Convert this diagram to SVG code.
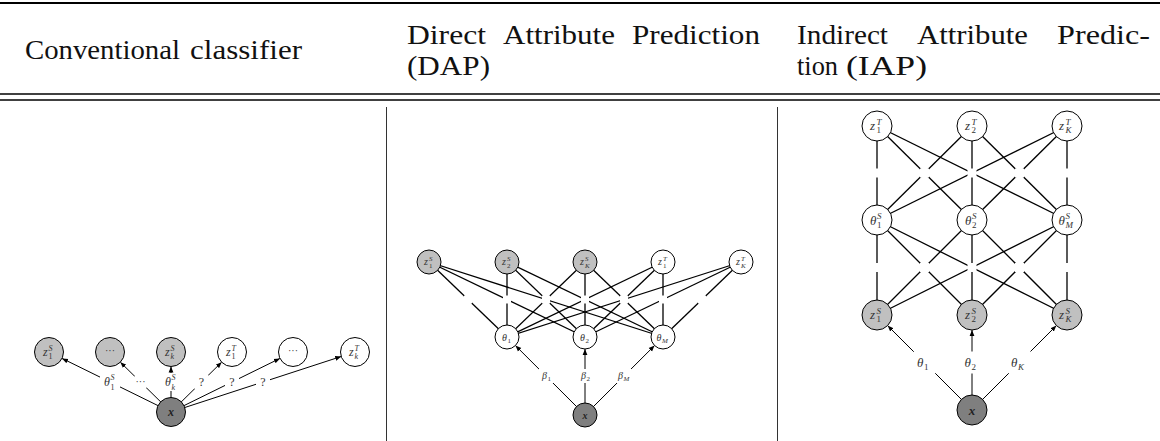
<svg xmlns="http://www.w3.org/2000/svg" width="1160" height="441" viewBox="0 0 1160 441">
<defs>
<marker id="ah" viewBox="0 0 10 10" refX="10" refY="5" markerWidth="6" markerHeight="6" markerUnits="userSpaceOnUse" orient="auto"><path d="M0,1 L10,5 L0,9 z" fill="#000"/></marker>
<style>
text{font-family:'Liberation Serif','Times New Roman','DejaVu Serif',serif;font-weight:normal}
.hdr{font-size:28px;fill:#111}
.rule{stroke:#000;fill:none}
.sep{stroke:#333;stroke-width:1}
.e{stroke:#000;stroke-width:1.3;fill:none}
.a{stroke:#000;stroke-width:1;fill:none;marker-end:url(#ah)}
.gap{fill:#fff}
.n{stroke:#000;stroke-width:1}
.obs{fill:#c0c0c0}
.lat{fill:#fff}
.inp{fill:#7f7f7f}
.m{font-style:italic;fill:#333}
.r{fill:#333}
.b{font-style:italic;font-weight:bold;fill:#222}
.s1{font-size:12px}.s1s{font-size:8px}
.s2{font-size:10px}.s2s{font-size:7px}
.s3{font-size:13px}.s3s{font-size:9px}
</style>
</defs>

<g id="header">
<line class="rule" x1="0" y1="3" x2="1160" y2="3" stroke-width="2.2"/>
<line class="rule" x1="0" y1="94" x2="1160" y2="94" stroke-width="1.3"/>
<line class="rule" x1="0" y1="100" x2="1160" y2="100" stroke-width="1.3"/>
<text class="hdr" x="25" y="59" textLength="155" lengthAdjust="spacingAndGlyphs">Conventional</text>
<text class="hdr" x="190" y="59" textLength="112" lengthAdjust="spacingAndGlyphs">classifier</text>
<text class="hdr" x="407" y="44" textLength="79" lengthAdjust="spacingAndGlyphs">Direct</text>
<text class="hdr" x="503" y="44" textLength="112" lengthAdjust="spacingAndGlyphs">Attribute</text>
<text class="hdr" x="632" y="44" textLength="128" lengthAdjust="spacingAndGlyphs">Prediction</text>
<text class="hdr" x="407" y="75" textLength="83" lengthAdjust="spacingAndGlyphs">(DAP)</text>
<text class="hdr" x="797" y="44" textLength="91" lengthAdjust="spacingAndGlyphs">Indirect</text>
<text class="hdr" x="917" y="44" textLength="111" lengthAdjust="spacingAndGlyphs">Attribute</text>
<text class="hdr" x="1057" y="44" textLength="93" lengthAdjust="spacingAndGlyphs">Predic-</text>
<text class="hdr" x="797" y="75" textLength="41" lengthAdjust="spacingAndGlyphs">tion</text>
<text class="hdr" x="846" y="75" textLength="81" lengthAdjust="spacingAndGlyphs">(IAP)</text>
<line class="sep" x1="386.5" y1="107" x2="386.5" y2="441"/>
<line class="sep" x1="777.5" y1="107" x2="777.5" y2="441"/>
</g>

<g id="connectors">
<!-- left panel arrows -->
<line class="a" x1="171" y1="412" x2="62.01" y2="358.4"/>
<line class="a" x1="171" y1="412" x2="120.34" y2="362.17"/>
<line class="a" x1="171" y1="412" x2="171" y2="366.5"/>
<line class="a" x1="171" y1="412" x2="221.66" y2="362.17"/>
<line class="a" x1="171" y1="412" x2="279.99" y2="358.4"/>
<line class="a" x1="171" y1="412" x2="341.21" y2="356.5"/>
<!-- middle panel undirected edges -->
<g class="e">
<line x1="429" y1="262" x2="507" y2="337"/><line x1="429" y1="262" x2="585" y2="337"/><line x1="429" y1="262" x2="663" y2="337"/>
<line x1="507" y1="262" x2="507" y2="337"/><line x1="507" y1="262" x2="585" y2="337"/><line x1="507" y1="262" x2="663" y2="337"/>
<line x1="585" y1="262" x2="507" y2="337"/><line x1="585" y1="262" x2="585" y2="337"/><line x1="585" y1="262" x2="663" y2="337"/>
<line x1="663" y1="262" x2="507" y2="337"/><line x1="663" y1="262" x2="585" y2="337"/><line x1="663" y1="262" x2="663" y2="337"/>
<line x1="741" y1="262" x2="507" y2="337"/><line x1="741" y1="262" x2="585" y2="337"/><line x1="741" y1="262" x2="663" y2="337"/>
</g>
<g class="gap">
<rect x="464" y="295.5" width="8" height="8"/><rect x="503" y="295.5" width="8" height="8"/><rect x="542" y="295.5" width="8" height="8"/>
<rect x="581" y="295.5" width="8" height="8"/><rect x="620" y="295.5" width="8" height="8"/><rect x="659" y="295.5" width="8" height="8"/>
<rect x="698" y="295.5" width="8" height="8"/>
</g>
<!-- middle arrows -->
<line class="a" x1="585" y1="415" x2="515.43" y2="345.54"/>
<line class="a" x1="585" y1="415" x2="585" y2="349"/>
<line class="a" x1="585" y1="415" x2="654.57" y2="345.54"/>
<!-- right panel undirected edges -->
<g class="e">
<line x1="877" y1="126" x2="877" y2="220"/><line x1="877" y1="126" x2="972" y2="220"/><line x1="877" y1="126" x2="1067" y2="220"/>
<line x1="972" y1="126" x2="877" y2="220"/><line x1="972" y1="126" x2="972" y2="220"/><line x1="972" y1="126" x2="1067" y2="220"/>
<line x1="1067" y1="126" x2="877" y2="220"/><line x1="1067" y1="126" x2="972" y2="220"/><line x1="1067" y1="126" x2="1067" y2="220"/>
<line x1="877" y1="220" x2="877" y2="315"/><line x1="877" y1="220" x2="972" y2="315"/><line x1="877" y1="220" x2="1067" y2="315"/>
<line x1="972" y1="220" x2="877" y2="315"/><line x1="972" y1="220" x2="972" y2="315"/><line x1="972" y1="220" x2="1067" y2="315"/>
<line x1="1067" y1="220" x2="877" y2="315"/><line x1="1067" y1="220" x2="972" y2="315"/><line x1="1067" y1="220" x2="1067" y2="315"/>
</g>
<g class="gap">
<rect x="872.5" y="168.5" width="9" height="9"/><rect x="920" y="168.5" width="9" height="9"/><rect x="967.5" y="168.5" width="9" height="9"/>
<rect x="1015" y="168.5" width="9" height="9"/><rect x="1062.5" y="168.5" width="9" height="9"/>
<rect x="872.5" y="263" width="9" height="9"/><rect x="920" y="263" width="9" height="9"/><rect x="967.5" y="263" width="9" height="9"/>
<rect x="1015" y="263" width="9" height="9"/><rect x="1062.5" y="263" width="9" height="9"/>
</g>
<!-- right arrows -->
<line class="a" x1="972" y1="410" x2="887.61" y2="325.61"/>
<line class="a" x1="972" y1="410" x2="972" y2="330"/>
<line class="a" x1="972" y1="410" x2="1056.39" y2="325.61"/>
<!-- edge labels with white background -->
<g class="gap">
<rect x="100" y="373" width="20" height="18"/>
<rect x="134.5" y="376" width="12" height="12"/>
<rect x="161" y="373" width="20" height="18"/>
<rect x="194.5" y="375" width="14" height="14"/>
<rect x="225" y="375" width="14" height="14"/>
<rect x="256" y="375" width="14" height="14"/>
<rect x="539" y="369" width="15" height="14"/>
<rect x="578" y="369" width="15" height="14"/>
<rect x="616" y="369" width="17" height="14"/>
<rect x="913.5" y="351.5" width="22" height="22"/>
<rect x="961" y="351.5" width="22" height="22"/>
<rect x="1008.5" y="351.5" width="24" height="22"/>
</g>
<text class="m s1" x="104" y="386">θ</text><text class="m s1s" x="110.5" y="379.5">S</text><text class="r s1s" x="110.5" y="389.5">1</text>
<text class="r" font-size="10" x="140.5" y="385" text-anchor="middle">···</text>
<text class="m s1" x="165" y="386">θ</text><text class="m s1s" x="171.5" y="379.5">S</text><text class="m s1s" x="171.5" y="389.5">k</text>
<text class="r s1" x="201.5" y="386" text-anchor="middle">?</text>
<text class="r s1" x="232" y="386" text-anchor="middle">?</text>
<text class="r s1" x="263" y="386" text-anchor="middle">?</text>
<text class="m s2" x="542" y="379">β</text><text class="r s2s" x="547.5" y="381">1</text>
<text class="m s2" x="581" y="379">β</text><text class="r s2s" x="586.5" y="381">2</text>
<text class="m s2" x="618" y="379">β</text><text class="m s2s" x="623.5" y="381">M</text>
<text class="m s3" x="917" y="367">θ</text><text class="r s3s" x="924" y="370">1</text>
<text class="m s3" x="964.5" y="367">θ</text><text class="r s3s" x="971.5" y="370">2</text>
<text class="m s3" x="1011" y="367">θ</text><text class="m s3s" x="1018" y="370">K</text>
</g>

<!-- LEFT PANEL NODES -->
<g id="c-z1S"><circle class="n obs" cx="49" cy="352" r="14.5"/><text class="m s1" x="43" y="356">z</text><text class="m s1s" x="48.5" y="350.5">S</text><text class="r s1s" x="48.5" y="359">1</text></g>
<g id="c-dotsS"><circle class="n obs" cx="110" cy="352" r="14.5"/><text class="r" font-size="10" x="110" y="354" text-anchor="middle">···</text></g>
<g id="c-zkS"><circle class="n obs" cx="171" cy="352" r="14.5"/><text class="m s1" x="165" y="356">z</text><text class="m s1s" x="170.5" y="350.5">S</text><text class="m s1s" x="170.5" y="359">k</text></g>
<g id="c-z1T"><circle class="n lat" cx="232" cy="352" r="14.5"/><text class="m s1" x="226" y="356">z</text><text class="m s1s" x="231.5" y="350.5">T</text><text class="r s1s" x="231.5" y="359">1</text></g>
<g id="c-dotsT"><circle class="n lat" cx="293" cy="352" r="14.5"/><text class="r" font-size="10" x="293" y="354" text-anchor="middle">···</text></g>
<g id="c-zkT"><circle class="n lat" cx="355" cy="352" r="14.5"/><text class="m s1" x="349" y="356">z</text><text class="m s1s" x="354.5" y="350.5">T</text><text class="m s1s" x="354.5" y="359">k</text></g>
<g id="c-x"><circle class="n inp" cx="171" cy="412" r="14.5"/><text class="b" font-size="12" x="171" y="415.5" text-anchor="middle">x</text></g>

<!-- MIDDLE PANEL NODES -->
<g id="d-z1S"><circle class="n obs" cx="429" cy="262" r="12"/><text class="m s2" x="424" y="265">z</text><text class="m s2s" x="429" y="261">S</text><text class="r s2s" x="429" y="268">1</text></g>
<g id="d-z2S"><circle class="n obs" cx="507" cy="262" r="12"/><text class="m s2" x="502" y="265">z</text><text class="m s2s" x="507" y="261">S</text><text class="r s2s" x="507" y="268">2</text></g>
<g id="d-zKS"><circle class="n obs" cx="585" cy="262" r="12"/><text class="m s2" x="580" y="265">z</text><text class="m s2s" x="585" y="261">S</text><text class="m s2s" x="585" y="268">K</text></g>
<g id="d-z1T"><circle class="n lat" cx="663" cy="262" r="12"/><text class="m s2" x="658" y="265">z</text><text class="m s2s" x="663" y="261">T</text><text class="r s2s" x="663" y="268">1</text></g>
<g id="d-zKT"><circle class="n lat" cx="741" cy="262" r="12"/><text class="m s2" x="736" y="265">z</text><text class="m s2s" x="741" y="261">T</text><text class="m s2s" x="741" y="268">K</text></g>
<g id="d-t1"><circle class="n lat" cx="507" cy="337" r="12"/><text class="m s2" x="502" y="340.5">θ</text><text class="r s2s" x="507.5" y="342.5">1</text></g>
<g id="d-t2"><circle class="n lat" cx="585" cy="337" r="12"/><text class="m s2" x="580" y="340.5">θ</text><text class="r s2s" x="585.5" y="342.5">2</text></g>
<g id="d-tM"><circle class="n lat" cx="663" cy="337" r="12"/><text class="m s2" x="656.5" y="340.5">θ</text><text class="m s2s" x="662" y="342.5">M</text></g>
<g id="d-x"><circle class="n inp" cx="585" cy="415" r="12"/><text class="b" font-size="10" x="585" y="418.5" text-anchor="middle">x</text></g>

<!-- RIGHT PANEL NODES -->
<g id="i-z1T"><circle class="n lat" cx="877" cy="126" r="15"/><text class="m s3" x="870" y="130">z</text><text class="m s3s" x="876.5" y="124.5">T</text><text class="r s3s" x="876.5" y="133">1</text></g>
<g id="i-z2T"><circle class="n lat" cx="972" cy="126" r="15"/><text class="m s3" x="965" y="130">z</text><text class="m s3s" x="971.5" y="124.5">T</text><text class="r s3s" x="971.5" y="133">2</text></g>
<g id="i-zKT"><circle class="n lat" cx="1067" cy="126" r="15"/><text class="m s3" x="1059" y="130">z</text><text class="m s3s" x="1065.5" y="124.5">T</text><text class="m s3s" x="1065.5" y="133">K</text></g>
<g id="i-t1"><circle class="n lat" cx="877" cy="220" r="15"/><text class="m s3" x="870" y="224.5">θ</text><text class="m s3s" x="877" y="218.5">S</text><text class="r s3s" x="877" y="227.5">1</text></g>
<g id="i-t2"><circle class="n lat" cx="972" cy="220" r="15"/><text class="m s3" x="965" y="224.5">θ</text><text class="m s3s" x="972" y="218.5">S</text><text class="r s3s" x="972" y="227.5">2</text></g>
<g id="i-tM"><circle class="n lat" cx="1067" cy="220" r="15"/><text class="m s3" x="1058.5" y="224.5">θ</text><text class="m s3s" x="1065.5" y="218.5">S</text><text class="m s3s" x="1065.5" y="227.5">M</text></g>
<g id="i-z1S"><circle class="n obs" cx="877" cy="315" r="15"/><text class="m s3" x="870" y="319">z</text><text class="m s3s" x="876.5" y="313.5">S</text><text class="r s3s" x="876.5" y="322">1</text></g>
<g id="i-z2S"><circle class="n obs" cx="972" cy="315" r="15"/><text class="m s3" x="965" y="319">z</text><text class="m s3s" x="971.5" y="313.5">S</text><text class="r s3s" x="971.5" y="322">2</text></g>
<g id="i-zKS"><circle class="n obs" cx="1067" cy="315" r="15"/><text class="m s3" x="1059" y="319">z</text><text class="m s3s" x="1065.5" y="313.5">S</text><text class="m s3s" x="1065.5" y="322">K</text></g>
<g id="i-x"><circle class="n inp" cx="972" cy="410" r="15"/><text class="b" font-size="13" x="972" y="414.5" text-anchor="middle">x</text></g>
</svg>
